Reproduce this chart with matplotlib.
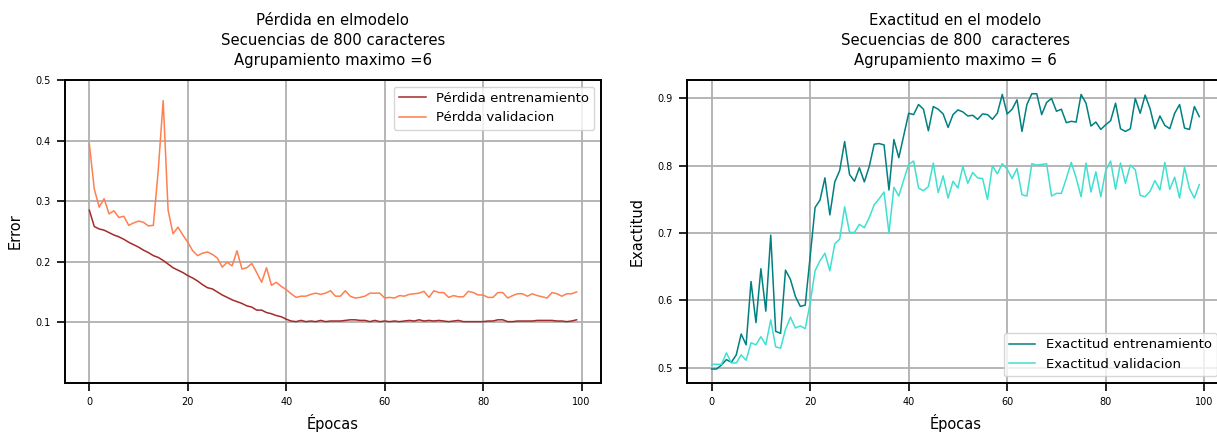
import numpy as np
import matplotlib
matplotlib.use("Agg")
import matplotlib.pyplot as plt

epochs = list(range(100))

loss_train = [0.285, 0.258, 0.254, 0.252, 0.248, 0.244, 0.241, 0.237, 0.232, 0.228,
              0.224, 0.219, 0.215, 0.210, 0.207, 0.202, 0.196, 0.190, 0.186, 0.182,
              0.177, 0.173, 0.168, 0.162, 0.157, 0.155, 0.150, 0.145, 0.141, 0.137,
              0.134, 0.131, 0.127, 0.125, 0.120, 0.120, 0.116, 0.114, 0.111, 0.109,
              0.105, 0.102, 0.101, 0.103, 0.101, 0.102, 0.101, 0.103, 0.101, 0.102,
              0.102, 0.102, 0.103, 0.104, 0.104, 0.103, 0.103, 0.101, 0.103, 0.101,
              0.102, 0.101, 0.102, 0.101, 0.102, 0.103, 0.102, 0.104, 0.102, 0.103,
              0.102, 0.103, 0.102, 0.101, 0.102, 0.103, 0.101, 0.101, 0.101, 0.101,
              0.101, 0.102, 0.102, 0.104, 0.104, 0.101, 0.101, 0.102, 0.102, 0.102,
              0.102, 0.103, 0.103, 0.103, 0.103, 0.102, 0.102, 0.101, 0.102, 0.104]

loss_val = [0.394, 0.320, 0.290, 0.304, 0.279, 0.284, 0.273, 0.275, 0.260, 0.264,
            0.267, 0.265, 0.259, 0.260, 0.351, 0.466, 0.285, 0.246, 0.257, 0.244,
            0.232, 0.218, 0.210, 0.214, 0.216, 0.212, 0.206, 0.191, 0.199, 0.193,
            0.218, 0.188, 0.190, 0.197, 0.182, 0.166, 0.190, 0.161, 0.166, 0.159,
            0.154, 0.147, 0.141, 0.143, 0.143, 0.146, 0.148, 0.146, 0.148, 0.152,
            0.143, 0.143, 0.152, 0.143, 0.140, 0.141, 0.143, 0.148, 0.148, 0.148,
            0.140, 0.141, 0.140, 0.144, 0.143, 0.146, 0.147, 0.148, 0.151, 0.141,
            0.152, 0.149, 0.149, 0.141, 0.144, 0.142, 0.142, 0.151, 0.149, 0.145,
            0.145, 0.141, 0.141, 0.149, 0.149, 0.140, 0.144, 0.147, 0.147, 0.143,
            0.147, 0.144, 0.142, 0.140, 0.149, 0.147, 0.143, 0.147, 0.147, 0.150]

acc_train = [0.498, 0.498, 0.504, 0.512, 0.508, 0.519, 0.550, 0.534, 0.628, 0.567,
             0.647, 0.584, 0.697, 0.554, 0.551, 0.645, 0.631, 0.606, 0.591, 0.593,
             0.665, 0.738, 0.749, 0.782, 0.727, 0.776, 0.793, 0.836, 0.787, 0.777,
             0.797, 0.776, 0.799, 0.832, 0.833, 0.831, 0.764, 0.839, 0.812, 0.845,
             0.878, 0.876, 0.891, 0.884, 0.852, 0.888, 0.884, 0.877, 0.857, 0.876,
             0.883, 0.880, 0.874, 0.875, 0.869, 0.877, 0.876, 0.869, 0.878, 0.906,
             0.877, 0.884, 0.898, 0.851, 0.891, 0.907, 0.907, 0.876, 0.894, 0.900,
             0.881, 0.884, 0.864, 0.866, 0.865, 0.906, 0.893, 0.859, 0.865, 0.854,
             0.861, 0.867, 0.893, 0.855, 0.851, 0.855, 0.900, 0.878, 0.905, 0.885,
             0.855, 0.874, 0.860, 0.855, 0.878, 0.891, 0.856, 0.854, 0.888, 0.873]

acc_val = [0.505, 0.505, 0.505, 0.522, 0.507, 0.507, 0.519, 0.511, 0.537, 0.534,
           0.546, 0.534, 0.571, 0.531, 0.529, 0.557, 0.575, 0.559, 0.562, 0.558,
           0.596, 0.644, 0.659, 0.670, 0.644, 0.684, 0.691, 0.739, 0.701, 0.701,
           0.713, 0.708, 0.723, 0.742, 0.751, 0.761, 0.700, 0.768, 0.755, 0.779,
           0.802, 0.807, 0.767, 0.763, 0.769, 0.804, 0.760, 0.785, 0.752, 0.777,
           0.767, 0.799, 0.774, 0.790, 0.782, 0.781, 0.750, 0.800, 0.788, 0.803,
           0.795, 0.781, 0.796, 0.757, 0.755, 0.803, 0.801, 0.802, 0.803, 0.755,
           0.759, 0.759, 0.781, 0.805, 0.782, 0.754, 0.804, 0.761, 0.791, 0.754,
           0.793, 0.807, 0.765, 0.804, 0.774, 0.801, 0.794, 0.756, 0.754, 0.762,
           0.778, 0.764, 0.805, 0.765, 0.783, 0.752, 0.798, 0.766, 0.752, 0.772]

loss_yticks = [0.1, 0.2, 0.3, 0.4, 0.5]
acc_yticks = [0.5, 0.6, 0.7, 0.8, 0.9]

plt.rcParams['font.family'] = ['DejaVu Sans']

fig = plt.figure(figsize=(12.17, 4.34), dpi=100)
ax1 = fig.add_axes([0.0534, 0.118, 0.4404, 0.6977])
ax2 = fig.add_axes([0.5647, 0.118, 0.4408, 0.6977])

def style(ax):
    ax.grid(True, color='#b0b0b0', linewidth=1.3)
    ax.set_axisbelow(True)
    for s in ax.spines.values():
        s.set_linewidth(1.4)
    ax.tick_params(axis='both', labelsize=7, length=5.5, width=1.2, pad=5)

ax1.plot(epochs, loss_train, color='brown', linewidth=1.1, label='Pérdida entrenamiento')
ax1.plot(epochs, loss_val, color='coral', linewidth=1.1, label='Pérdda validacion')
ax1.set_ylim(0, 0.5)
ax1.set_yticks(loss_yticks)
ax1.set_title('Pérdida en elmodelo\nSecuencias de 800 caracteres\nAgrupamiento maximo =6',
              fontsize=10.7, linespacing=1.4, pad=11)
ax1.set_xlabel('Épocas', fontsize=10.5, labelpad=5)
ax1.set_ylabel('Error', fontsize=10.5, labelpad=9)
style(ax1)
ax1.legend(loc='upper right', fontsize=9.5)

ax2.plot(epochs, acc_train, color='teal', linewidth=1.1, label='Exactitud entrenamiento')
ax2.plot(epochs, acc_val, color='turquoise', linewidth=1.1, label='Exactitud validacion')
ax2.set_yticks(acc_yticks)
ax2.set_title('Exactitud en el modelo\nSecuencias de 800  caracteres\nAgrupamiento maximo = 6',
              fontsize=10.7, linespacing=1.4, pad=11)
ax2.set_xlabel('Épocas', fontsize=10.5, labelpad=5)
ax2.set_ylabel('Exactitud', fontsize=10.5, labelpad=9)
style(ax2)
ax2.legend(loc='lower right', fontsize=9.5)

fig.savefig('out.png', dpi=100)
